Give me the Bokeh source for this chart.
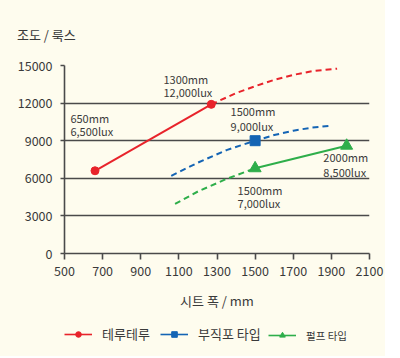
from bokeh.plotting import figure
from bokeh.models import Label, Legend, LegendItem, Range1d, FixedTicker, Div
from bokeh.layouts import column
from bokeh.embed import file_html
from bokeh.resources import INLINE

# ---- data ----
x_ticks = [500, 700, 900, 1100, 1300, 1500, 1700, 1900, 2100]
y_ticks = [0, 3000, 6000, 9000, 12000, 15000]

teru_x = [660, 1270]
teru_y = [6600, 11900]
teru_dash_x = [1270, 1400, 1500, 1600, 1700, 1800, 1930]
teru_dash_y = [11900, 12800, 13350, 13850, 14250, 14550, 14750]

bu_x = [1500]
bu_y = [9000]
bu_dash_x = [1060, 1200, 1350, 1500, 1600, 1700, 1800, 1900]
bu_dash_y = [6200, 7250, 8250, 9000, 9450, 9800, 10050, 10200]

pulp_x = [1500, 1980]
pulp_y = [6800, 8600]
pulp_dash_x = [1080, 1200, 1350, 1500]
pulp_dash_y = [3950, 4950, 5950, 6800]

legend_names = ["테루테루", "부직포 타입", "펄프 타입"]
y_title = "조도 / 룩스"
x_title = "시트 폭 / mm"

RED = "#E8232B"
BLUE = "#1464B4"
GREEN = "#2EAE4A"
BG = "#FEFCEE"
TXT = "#3a3a3a"
GRID = "#4a4a4a"
FONT = "Noto Sans CJK KR"
W = 385

# ---- header (y title) ----
head = Div(text=y_title, width=W, height=50, margin=0,
           styles={"font-family": "'Noto Sans CJK KR', sans-serif", "font-size": "13px",
                   "color": TXT, "background-color": BG, "padding-left": "17px",
                   "padding-top": "25px", "line-height": "19px", "box-sizing": "border-box"})

# ---- main plot ----
p = figure(frame_width=305, frame_height=188, output_backend="svg", toolbar_location=None,
           x_range=Range1d(500, 2100), y_range=Range1d(0, 15000),
           min_border_left=64, min_border_right=16, min_border_top=15, min_border_bottom=58)
p.background_fill_color = BG
p.border_fill_color = BG
p.outline_line_color = None

p.xgrid.grid_line_color = None
p.ygrid.grid_line_color = GRID
p.ygrid.grid_line_width = 1.6
p.ygrid.ticker = FixedTicker(ticks=y_ticks)

for ax in (p.xaxis[0], p.yaxis[0]):
    ax.axis_line_color = GRID
    ax.axis_line_width = 1.6
    ax.major_tick_line_color = GRID
    ax.major_tick_line_width = 1.6
    ax.minor_tick_line_color = None
    ax.major_tick_in = 0
    ax.major_label_text_font = FONT
    ax.major_label_text_font_size = "12.5px"
    ax.major_label_text_color = TXT

p.xaxis.ticker = FixedTicker(ticks=x_ticks)
p.yaxis.ticker = FixedTicker(ticks=y_ticks)
p.xaxis.major_tick_out = 6
p.yaxis.major_tick_out = 4
p.xaxis.major_label_standoff = 6
p.yaxis.major_label_standoff = 8
p.xaxis.axis_label = x_title
p.xaxis.axis_label_text_font = FONT
p.xaxis.axis_label_text_font_size = "13px"
p.xaxis.axis_label_text_font_style = "normal"
p.xaxis.axis_label_text_color = TXT
p.xaxis.axis_label_standoff = 12

p.line(teru_x, teru_y, line_color=RED, line_width=2)
p.line(teru_dash_x, teru_dash_y, line_color=RED, line_width=2, line_dash="6 4")
p.scatter(teru_x, teru_y, marker="circle", size=8, color=RED)

p.line(bu_dash_x, bu_dash_y, line_color=BLUE, line_width=2, line_dash="6 4")
p.scatter(bu_x, bu_y, marker="square", size=10, color=BLUE)

p.line(pulp_dash_x, pulp_dash_y, line_color=GREEN, line_width=2, line_dash="6 4")
p.line(pulp_x, pulp_y, line_color=GREEN, line_width=2)
p.scatter(pulp_x, pulp_y, marker="triangle", size=12, color=GREEN)


def lab(x, y, t, size="11px"):
    p.add_layout(Label(x=x, y=y, text=t, text_font=FONT, text_font_size=size,
                       text_color=TXT, text_baseline="middle", text_align="left"))


lab(531, 10850, "650mm"); lab(531, 9800, "6,500lux")
lab(1019, 13960, "1300mm"); lab(1019, 12920, "12,000lux")
lab(1371, 11330, "1500mm"); lab(1371, 10210, "9,000lux")
lab(1858, 7660, "2000mm"); lab(1858, 6540, "8,500lux")
lab(1408, 5030, "1500mm"); lab(1408, 3990, "7,000lux")

# ---- legend strip (frame aligned with the main plot) ----
leg = figure(frame_width=305, frame_height=44, output_backend="svg", toolbar_location=None,
             x_range=Range1d(0, 305), y_range=Range1d(0, 44),
             min_border_left=64, min_border_right=16, min_border_top=0, min_border_bottom=0)
leg.axis.visible = False
leg.grid.grid_line_color = None
leg.outline_line_color = None
leg.background_fill_color = BG
leg.border_fill_color = BG

nan = float("nan")
styles = [(RED, "circle", 8), (BLUE, "square", 8), (GREEN, "triangle", 9)]
positions = [(0, 13), (96, 13), (204, 13)]
sizes = ["13px", "13px", "10.5px"]
for name, (col, mk, sz), loc, fs in zip(legend_names, styles, positions, sizes):
    l1 = leg.line(x=[nan], y=[nan], line_color=col, line_width=1.6)
    m1 = leg.scatter(x=[nan], y=[nan], marker=mk, size=sz, color=col)
    lg = Legend(items=[LegendItem(label=name, renderers=[l1, m1])], location=loc,
                orientation="horizontal", border_line_color=None, background_fill_alpha=0,
                padding=0, margin=0, glyph_width=28, glyph_height=14,
                label_text_font=FONT, label_text_font_size=fs, label_text_color=TXT,
                label_standoff=10, label_height=16)
    leg.add_layout(lg, "center")

layout = column(head, p, leg, spacing=0)
layout.styles = {"background-color": BG}
open("out.html", "w").write(file_html(layout, INLINE))
